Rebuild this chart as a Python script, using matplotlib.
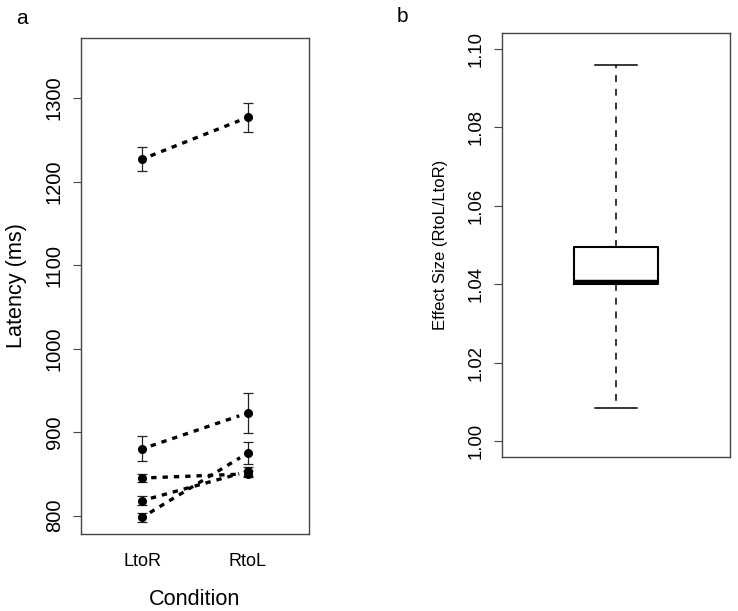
import matplotlib
matplotlib.use("Agg")
import matplotlib.pyplot as plt
import numpy as np

plt.rcParams['font.family'] = ['Liberation Sans', 'DejaVu Sans']

# panel a data: mean latency (ms) and error half-widths per series
conditions = ["LtoR", "RtoL"]
ltor_mean = [1227, 880, 845, 818, 798]
rtol_mean = [1277, 923, 850, 853, 875]
ltor_err = [14, 15, 4.5, 5, 5.5]
rtol_err = [17.5, 23.5, 4, 5, 13.5]
lat_ticks = [800, 900, 1000, 1100, 1200, 1300]

# panel b data: box plot stats of effect size
eff_stats = {"whislo": 1.0086, "q1": 1.0400, "med": 1.0406, "q3": 1.0496, "whishi": 1.0959}
eff_ticks = [1.00, 1.02, 1.04, 1.06, 1.08, 1.10]

W, H = 738, 611
fig = plt.figure(figsize=(W / 100, H / 100), dpi=100)
frame_col = "#454545"

# ---- panel a ----
ax = fig.add_axes([81 / W, 1 - 534 / H, 228 / W, 496 / H])
xpos = np.arange(1, len(conditions) + 1)
ax.set_xlim(0.42, 2.58)
ax.set_ylim(778, 1372)

for i in range(len(ltor_mean)):
    ys = [ltor_mean[i], rtol_mean[i]]
    errs = [ltor_err[i], rtol_err[i]]
    ax.errorbar(xpos, ys, yerr=errs, fmt='o', color='black', ms=5.5,
                ecolor='#222222', elinewidth=0.9, capsize=3.3, capthick=0.9, zorder=3)
    # line with a gap around points (like R type="b")
    p = ax.transData.transform(np.column_stack([xpos, ys]))
    d = p[1] - p[0]
    u = d / np.hypot(*d)
    gap = 9
    q = ax.transData.inverted().transform(np.vstack([p[0] + u * gap, p[1] - u * gap]))
    ax.plot(q[:, 0], q[:, 1], color='black', lw=2.4, dashes=(1.6, 1.8),
            dash_capstyle='butt', zorder=2)

ax.set_yticks(lat_ticks)
ax.set_yticklabels([str(t) for t in lat_ticks], rotation=90, va='center', fontsize=14.5)
ax.set_xticks(xpos)
ax.set_xticklabels(conditions, fontsize=13)
ax.tick_params(axis='y', length=5.8, width=0.8, color=frame_col, pad=6.5)
ax.tick_params(axis='x', length=0, pad=14)
for s in ax.spines.values():
    s.set_color(frame_col)
    s.set_linewidth(1.0)

fig.text(17 / W, 1 - 286 / H, "Latency (ms)", rotation=90, ha='center', va='center', fontsize=15.6)
fig.text(195 / W, 1 - 605 / H, "Condition", ha='center', va='baseline', fontsize=15.6)
fig.text(22 / W, 1 - 19 / H, "a", ha='center', va='center', fontsize=15)

# ---- panel b ----
bx = fig.add_axes([502 / W, 1 - 457 / H, 228 / W, 424 / H])
bx.bxp([eff_stats], positions=[1], widths=0.398, showfliers=False,
       boxprops=dict(color='black', lw=1.5),
       medianprops=dict(color='black', lw=3.2, solid_capstyle='butt'),
       whiskerprops=dict(color='black', lw=1.1, dashes=(4.5, 4.5)),
       capprops=dict(color='black', lw=1.1), capwidths=0.2)
bx.set_xlim(0.46, 1.54)
bx.set_ylim(0.996, 1.104)
bx.set_xticks([])
bx.set_yticks(eff_ticks)
bx.set_yticklabels([f"{t:.2f}" for t in eff_ticks], rotation=90, va='center', fontsize=13.3)
bx.tick_params(axis='y', length=5.8, width=0.8, color=frame_col, pad=7)
for s in bx.spines.values():
    s.set_color(frame_col)
    s.set_linewidth(1.0)

fig.text(441 / W, 1 - 245 / H, "Effect Size (RtoL/LtoR)", rotation=90, ha='center', va='center', fontsize=12)
fig.text(402 / W, 1 - 16 / H, "b", ha='center', va='center', fontsize=15)

fig.savefig("out.png", dpi=100)
